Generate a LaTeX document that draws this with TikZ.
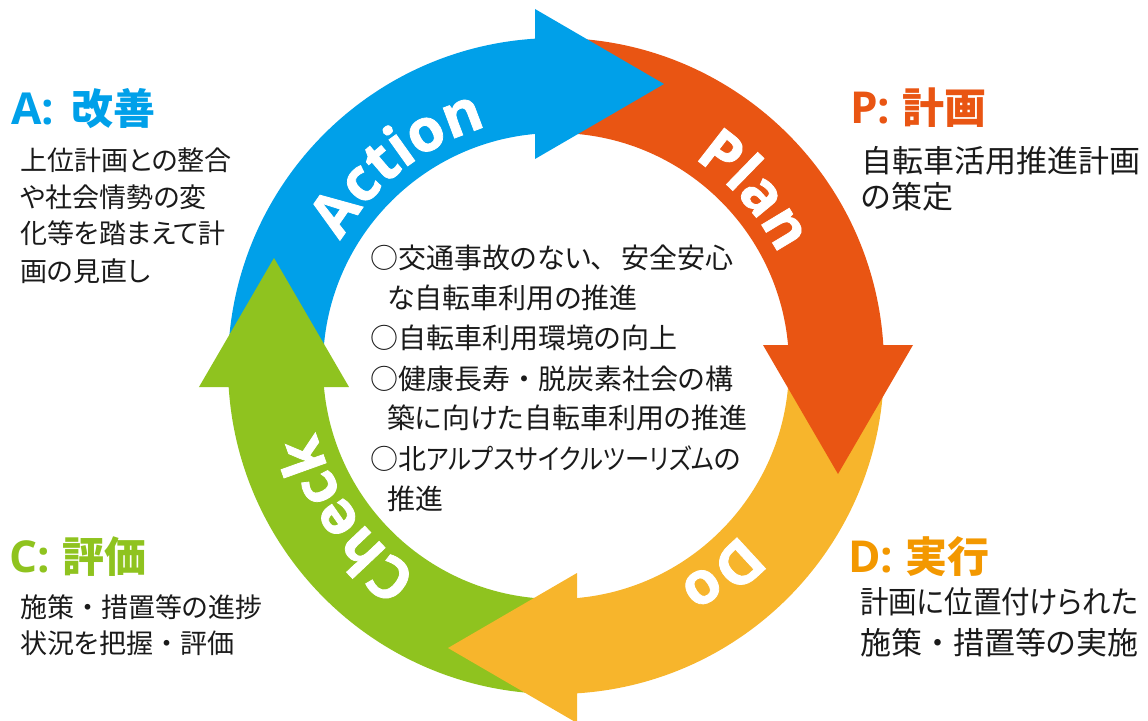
\documentclass[tikz,border=0pt]{standalone}
\usepackage{fontspec}
\usepackage{graphicx}
\usetikzlibrary{decorations.text}
\newfontfamily\jpfont{Noto Sans CJK JP}[RawFeature=+palt]
\newfontfamily\jpfull{Noto Sans CJK JP}
\newfontfamily\ringfamily{Open Sans}[BoldFeatures={FakeBold=1.3}]
\newfontfamily\headlatin{Open Sans}
\definecolor{cBlue}{HTML}{00A0E9}
\definecolor{cOrange}{HTML}{E95513}
\definecolor{cYellow}{HTML}{F7B52C}
\definecolor{cGreen}{HTML}{8FC31F}
\definecolor{cHeadD}{HTML}{F39800}
\definecolor{cText}{HTML}{1A1A1A}
\newcommand\ringfnt{\ringfamily\bfseries\fontsize{59}{59}\selectfont\color{white}}
\newcommand\ringseg[3]{\fill[#1] (#2:328) arc[start angle=#2,end angle=#3,radius=328] -- (#3:233) arc[start angle=#3,end angle=#2,radius=233] -- cycle;}
\newcommand\nkg{{\jpfull ・}}
\newcommand\hdlat[1]{{\headlatin\bfseries\fontsize{44}{44}\selectfont #1}}
\newlength\fitlen
\newcommand\fitw[2]{\settowidth{\fitlen}{#2}\pgfmathsetmacro\fitratio{#1/\fitlen}\scalebox{\fitratio}[1]{#2}}
\begin{document}
\begin{tikzpicture}[x=1pt,y=1pt,
  lbl/.style={inner sep=0pt,anchor=base west,text=cText},
  ctr/.style={lbl,font=\jpfont\fontsize{28}{28}\selectfont},
  lft/.style={lbl,font=\jpfont\fontsize{27}{27}\selectfont},
  rgt/.style={lbl,font=\jpfont\fontsize{31}{31}\selectfont},
  head/.style={inner sep=0pt,anchor=base west,font=\jpfont\bfseries\fontsize{42}{42}\selectfont},
  ringtext/.style={decorate,decoration={text along path,text align=center,text={|\ringfnt|#1}}}]
\useasboundingbox (-556,-354) rectangle (592,366);
% ring bodies
\ringseg{cBlue}{180}{92}
\ringseg{cOrange}{90}{2}
\ringseg{cYellow}{0}{-88}
\ringseg{cGreen}{-90}{-178}
% arrow heads
\fill[cBlue] (-21,357) -- (108,282) -- (-21,207) -- cycle;
\fill[cOrange] (357,21) -- (282,-108) -- (207,21) -- cycle;
\fill[cYellow] (21,-357) -- (-108,-282) -- (21,-207) -- cycle;
\fill[cGreen] (-357,-21) -- (-282,108) -- (-207,-21) -- cycle;
% ring labels
\path[ringtext=Action] (168:249) arc[start angle=168,end angle=88,radius=249];
\path[ringtext=Plan] (81.5:249) arc[start angle=81.5,end angle=1.5,radius=249];
\path[ringtext=Do] (-11.5:249) arc[start angle=-11.5,end angle=-91.5,radius=249];
\path[ringtext=Check] (-104:249) arc[start angle=-104,end angle=-184,radius=249];
% centre text
\node[ctr] (c1) at (-186,97.4) {○交通事故のない、\hspace{16pt}安全安心};
\node[ctr] (c2) at (-169,57.4) {な自転車利用の推進};
\node[ctr] (c3) at (-186,17.4) {○自転車利用環境の向上};
\node[ctr] (c4) at (-186,-23.6) {○健康長寿\nkg 脱炭素社会の構};
\node[ctr] (c5) at (-169,-62.6) {築に向けた自転車利用の推進};
\node[ctr] (c6) at (-186,-103.6) {○北\fitw{288pt}{アルプスサイクルツーリズム}の};
\node[ctr] (c7) at (-169,-143.6) {推進};
% headings
\node[head,text=cBlue] (hA) at (-545,241) {\hdlat{A:}\hspace{17pt}改善};
\node[head,text=cOrange] (hP) at (294,242.5) {\hdlat{P:}\hspace{12pt}計画};
\node[head,text=cGreen] (hC) at (-547,-206) {\hdlat{C:}\hspace{13pt}評価};
\node[head,text=cHeadD] (hD) at (292,-206) {\hdlat{D:}\hspace{12pt}実行};
% side texts
\node[lft] (a1) at (-536,195.7) {上位計画との整合};
\node[lft] (a2) at (-536,158.7) {や社会情勢の変};
\node[lft] (a3) at (-536,122.7) {化等を踏まえて計};
\node[lft] (a4) at (-536,84.7) {画の見直し};
\node[rgt] (p1) at (305,193.6) {自転車活用推進計画};
\node[rgt] (p2) at (305,157.6) {の策定};
\node[lft] (k1) at (-536,-251.3) {施策\nkg 措置等の進捗};
\node[lft] (k2) at (-536,-287.3) {状況を把握\nkg 評価};
\node[rgt] (d1) at (304,-247.4) {\fitw{278pt}{計画に位置付けられた}};
\node[rgt] (d2) at (304,-288.4) {施策\nkg 措置等の実施};
\end{tikzpicture}
\end{document}
